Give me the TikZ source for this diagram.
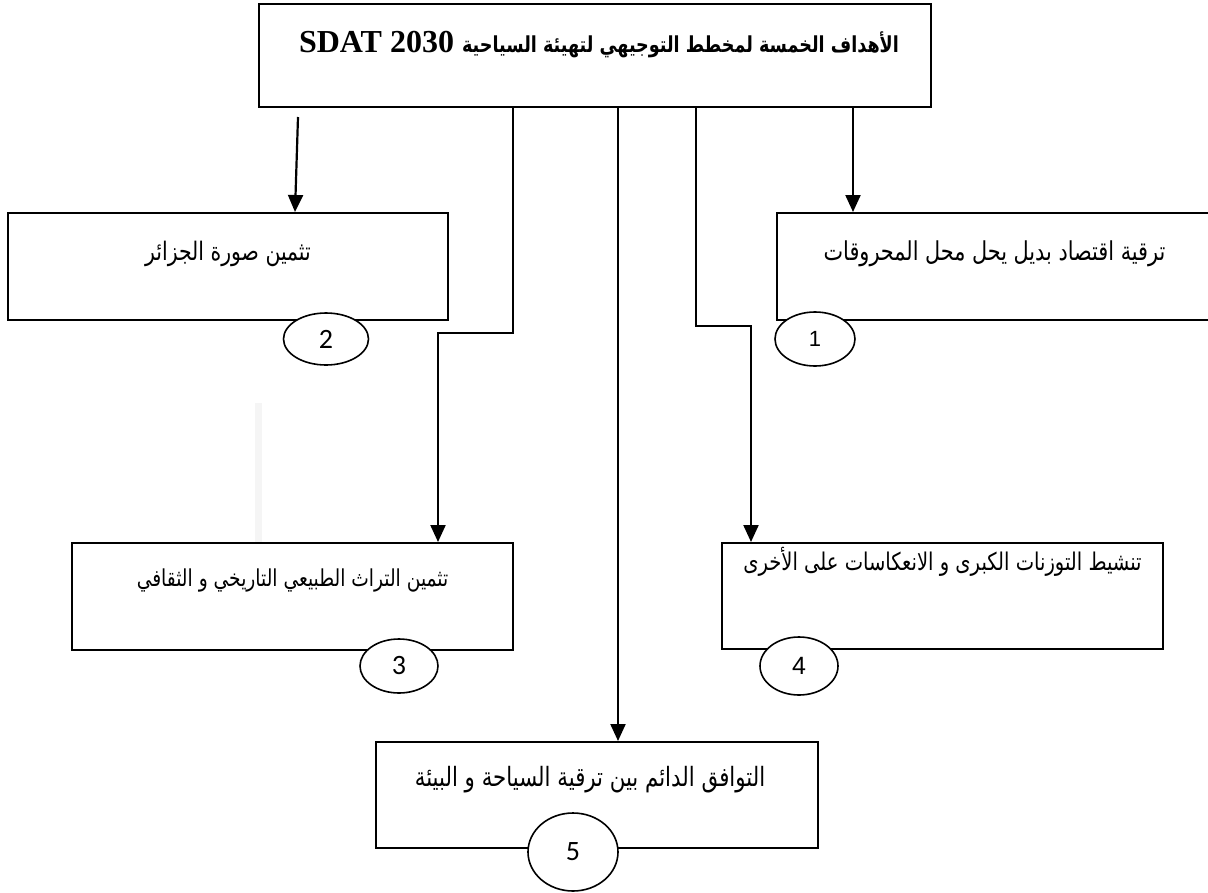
\documentclass[tikz,border=0pt]{standalone}
\usepackage{fontspec}
\setmainfont{Liberation Serif}
\newfontfamily\arabicfont[Script=Arabic, FakeStretch=0.8]{DejaVu Sans}
\newfontfamily\numfont{Carlito}
\newfontfamily\arialfont{Liberation Sans}
\TeXXeTstate=1
\usetikzlibrary{arrows.meta,shapes.geometric,positioning}
\tikzset{
  goalbox/.style={draw, line width=2pt, rectangle, inner sep=0pt},
  goaltext/.style={font=\arabicfont\fontsize{24}{28}\selectfont, inner sep=0pt},
  numoval/.style={draw, line width=1.6pt, ellipse, fill=white, inner sep=0pt, font=\numfont\fontsize{28}{32}\selectfont},
  goalarrow/.style={line width=2.2pt, -{Triangle[length=17pt,width=15pt]}}
}

\begin{document}
\begin{tikzpicture}[x=1pt, y=-1pt]
\useasboundingbox (0,0) rectangle (1208,892);
\fill[gray!8] (255,403) rectangle (262,542);
% boxes
\node[goalbox, minimum width=672pt, minimum height=103pt] (top) at (595,55.5) {};
\node[goalbox, minimum width=435pt, minimum height=107pt] (g1) at (994.5,266.5) {};
\node[goalbox, minimum width=440pt, minimum height=107pt] (g2) at (228,266.5) {};
\node[goalbox, minimum width=441pt, minimum height=107pt] (g3) at (292.5,596.5) {};
\node[goalbox, minimum width=441pt, minimum height=106pt] (g4) at (942.5,596) {};
\node[goalbox, minimum width=442pt, minimum height=106pt] (g5) at (597,795) {};
% texts
\node[font=\bfseries\fontsize{32}{36}\selectfont, inner sep=0pt] (title) at (599,45)
  {\beginR{\arabicfont\fontsize{22}{26}\selectfont الأهداف الخمسة لمخطط التوجيهي لتهيئة السياحية} \beginL SDAT 2030\endL\endR};
\node[goaltext, font=\arabicfont\fontsize{26}{30}\selectfont] (t1) at ([yshift=-42pt]g1.north) {\beginR ترقية اقتصاد بديل يحل محل المحروقات\endR};
\node[goaltext, font=\arabicfont\fontsize{25.5}{29}\selectfont] (t2) at ([yshift=-42pt]g2.north) {\beginR تثمين صورة الجزائر\endR};
\node[goaltext, font=\arabicfont\fontsize{23.3}{27}\selectfont] (t3) at ([yshift=-38pt]g3.north) {\beginR تثمين التراث الطبيعي التاريخي و الثقافي\endR};
\node[goaltext, font=\arabicfont\fontsize{24.4}{28}\selectfont] (t4) at ([yshift=-20pt]g4.north) {\beginR تنشيط التوزنات الكبرى و الانعكاسات على الأخرى\endR};
\node[goaltext, font=\arabicfont\fontsize{26.6}{30}\selectfont] (t5) at ([xshift=-7pt,yshift=-39pt]g5.north) {\beginR التوافق الدائم بين ترقية السياحة و البيئة\endR};
% connectors
\coordinate (a1) at (853,0);
\coordinate (s2) at (298,117);
\coordinate (a2) at (295,0);
\coordinate (a5) at (618,0);
\coordinate (k3) at (513,333);
\coordinate (e3) at (438,333);
\coordinate (k4) at (696,326);
\coordinate (e4) at (751,326);
\draw[goalarrow] (top.south -| a1) -- (g1.north -| a1);
\draw[goalarrow] (s2) -- (g2.north -| a2);
\draw[goalarrow] (top.south -| a5) -- (g5.north -| a5);
\draw[goalarrow] (top.south -| k3) -- (k3) -- (e3) -- (g3.north -| e3);
\draw[goalarrow] (top.south -| k4) -- (k4) -- (e4) -- (g4.north -| e4);
% numbers
\node[numoval, font=\arialfont\fontsize{22}{26}\selectfont, minimum width=80pt, minimum height=54pt] (n1) at (815,339) {1};
\node[numoval, minimum width=85pt, minimum height=52pt] (n2) at (326,339) {2};
\node[numoval, minimum width=78pt, minimum height=54pt] (n3) at (399,666) {3};
\node[numoval, font=\arialfont\fontsize{25}{29}\selectfont, minimum width=78pt, minimum height=58pt] (n4) at (799,666) {4};
\node[numoval, minimum width=90pt, minimum height=78pt] (n5) at (573,852) {5};
\end{tikzpicture}
\end{document}
